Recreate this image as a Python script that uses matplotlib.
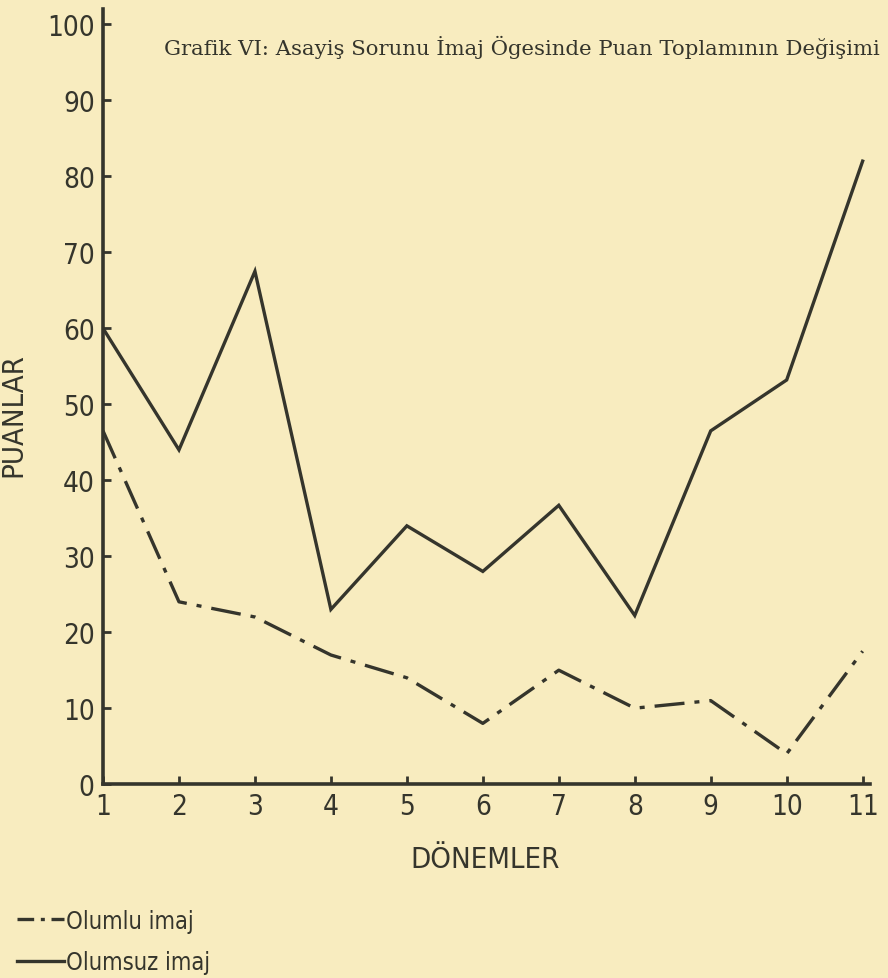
import matplotlib.pyplot as plt
from matplotlib.lines import Line2D

donemler = [1, 2, 3, 4, 5, 6, 7, 8, 9, 10, 11]
olumlu = [46.5, 24, 22, 17, 14, 8, 15, 10, 11, 4, 17.5]
olumsuz = [60, 44, 67.5, 23, 34, 28, 36.7, 22.2, 46.5, 53.2, 82]
yticks = [0, 10, 20, 30, 40, 50, 60, 70, 80, 90, 100]

bg = "#f8ecbf"
ink = "#35352c"
sans = ["DejaVu Sans"]

fig = plt.figure(figsize=(8.88, 9.79), dpi=100, facecolor=bg)
ax = fig.add_axes([0.116, 0.198, 0.864, 0.7916], facecolor=bg)

ax.plot(donemler, olumsuz, color=ink, lw=2.4, solid_joinstyle="miter")
ax.plot(donemler, olumlu, color=ink, lw=2.4, dashes=(9, 3, 1.5, 3))

ax.set_xlim(1, 11.1)
ax.set_ylim(0, 102)
ax.set_xticks(donemler)
ax.set_yticks(yticks)
ax.tick_params(direction="in", length=6, width=2, color=ink, labelcolor=ink,
               labelsize=20, pad=6)
for lab in ax.get_xticklabels() + ax.get_yticklabels():
    lab.set_family(sans)
    lab.set_stretch("condensed")
for s in ["top", "right"]:
    ax.spines[s].set_visible(False)
for s in ["left", "bottom"]:
    ax.spines[s].set_linewidth(2.6)
    ax.spines[s].set_color(ink)

ax.set_xlabel("DÖNEMLER", family=sans, stretch="condensed", fontsize=21, color=ink)
ax.set_ylabel("PUANLAR", family=sans, stretch="condensed", fontsize=21, color=ink)
ax.xaxis.set_label_coords(0.498, -0.078)
ax.yaxis.set_label_coords(-0.098, 0.477)

fig.text(0.588, 0.952, "Grafik VI: Asayiş Sorunu İmaj Ögesinde Puan Toplamının Değişimi",
         family=["DejaVu Serif"], fontsize=15.3, color=ink,
         ha="center", va="center")

handles = [Line2D([], [], color=ink, lw=2.4, dashes=(5, 2, 1.2, 2)),
           Line2D([], [], color=ink, lw=2.4)]
fig.legend(handles, ["Olumlu imaj", "Olumsuz imaj"], loc="lower left",
           bbox_to_anchor=(-0.005, -0.018), frameon=False, handlelength=2.0,
           handletextpad=0.1, labelspacing=0.75, labelcolor=ink,
           prop={"family": sans, "stretch": "condensed", "size": 17})

fig.savefig("out.png", dpi=100, facecolor=bg)
